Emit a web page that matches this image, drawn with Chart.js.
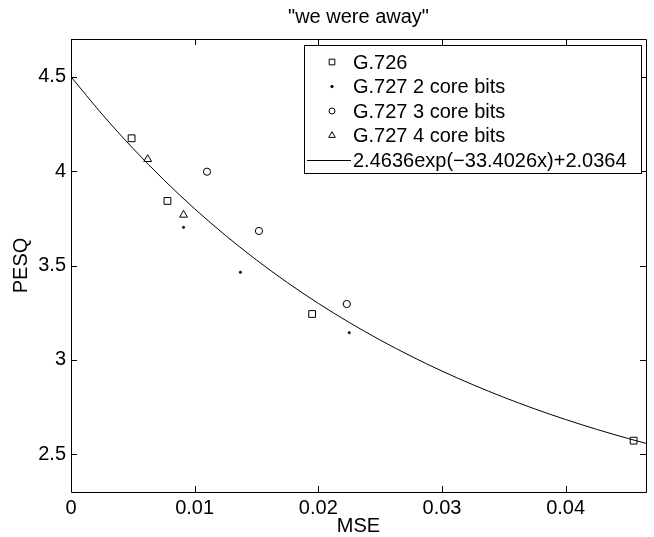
<!DOCTYPE html>
<html>
<head>
<meta charset="utf-8">
<script src="https://cdn.jsdelivr.net/npm/chart.js@4.4.0/dist/chart.umd.min.js"></script>
<style>
  body { margin: 0; background: #fff; }
  #wrap { width: 654px; height: 537px; }
</style>
</head>
<body>
<div id="wrap"><canvas id="myChart" width="654" height="537"></canvas></div>
<script>
// values
const g726X = [0.0049, 0.0078, 0.0195, 0.0455];
const g726Y = [4.174, 3.842, 3.243, 2.572];
const core2X = [0.0091, 0.0137, 0.0225];
const core2Y = [3.702, 3.464, 3.144];
const core3X = [0.0110, 0.0152, 0.0223];
const core3Y = [3.997, 3.683, 3.296];
const core4X = [0.0062, 0.0091];
const core4Y = [4.063, 3.768];
// fitted curve, sampled along the drawn line
const fitX = [0, 0.0025, 0.005, 0.0075, 0.01, 0.0125, 0.015, 0.0175, 0.02, 0.0225, 0.025,
              0.0275, 0.03, 0.0325, 0.035, 0.0375, 0.04, 0.0425, 0.045, 0.0465];
const fitY = [4.5, 4.3026, 4.1211, 3.954, 3.8004, 3.6591, 3.5291, 3.4095, 3.2995, 3.1983, 3.1052,
              3.0196, 2.9408, 2.8684, 2.8017, 2.7404, 2.684, 2.6321, 2.5844, 2.5576];
const xTicks = [0, 0.01, 0.02, 0.03, 0.04];
const yTicks = [2.5, 3, 3.5, 4, 4.5];

const FONT = '"Liberation Sans", Arial, Helvetica, sans-serif';
const pts = (xs, ys) => xs.map((x, i) => ({x: x, y: ys[i]}));

// box with inward ticks on every side, matlab style
const boxPlugin = {
  id: 'box',
  afterDraw(chart) {
    const {ctx, chartArea: a, scales} = chart;
    ctx.save();
    ctx.strokeStyle = '#000';
    ctx.lineWidth = 1;
    ctx.beginPath();
    ctx.rect(a.left + 0.5, a.top + 0.5, a.right - a.left, a.bottom - a.top);
    const tl = 6;
    xTicks.forEach(v => {
      const px = Math.round(scales.x.getPixelForValue(v)) + 0.5;
      ctx.moveTo(px, a.bottom); ctx.lineTo(px, a.bottom - tl);
      ctx.moveTo(px, a.top); ctx.lineTo(px, a.top + tl);
    });
    yTicks.forEach(v => {
      const py = Math.round(scales.y.getPixelForValue(v)) + 0.5;
      ctx.moveTo(a.left, py); ctx.lineTo(a.left + tl, py);
      ctx.moveTo(a.right, py); ctx.lineTo(a.right - tl, py);
    });
    ctx.stroke();

    // title
    ctx.fillStyle = '#000';
    ctx.font = '20px ' + FONT;
    ctx.textAlign = 'center';
    ctx.textBaseline = 'middle';
    ctx.fillText('"we were away"', (a.left + a.right) / 2, 17);

    // legend box
    const lx = 304, ly = 45, lw = 337, lh = 128;
    ctx.fillStyle = '#fff';
    ctx.fillRect(lx, ly, lw, lh);
    ctx.strokeRect(lx + 0.5, ly + 0.5, lw, lh);
    ctx.font = '20px ' + FONT;
    ctx.textAlign = 'left';
    chart.data.datasets.forEach((ds, i) => {
      const y = 62 + i * 24.5;
      if (ds.showLine) {
        ctx.beginPath();
        ctx.moveTo(307, Math.round(y) + 0.5);
        ctx.lineTo(351, Math.round(y) + 0.5);
        ctx.stroke();
      } else {
        ctx.fillStyle = ds.pointBackgroundColor;
        ctx.strokeStyle = '#000';
        Chart.helpers.drawPoint(ctx, {
          pointStyle: ds.pointStyle, radius: ds.legendRadius, rotation: 0,
          borderWidth: 1
        }, 332, y);
      }
      ctx.fillStyle = '#000';
      ctx.fillText(ds.label, 353, y + 1);
    });
    ctx.restore();
  }
};

const ctx = document.getElementById('myChart').getContext('2d');
const myChart = new Chart(ctx, {
  type: 'scatter',
  data: {
    datasets: [
      { label: 'G.726', data: pts(g726X, g726Y), pointStyle: 'rect', pointRadius: 4.8, legendRadius: 4,
        borderColor: '#000', backgroundColor: 'rgba(0,0,0,0)', pointBackgroundColor: 'rgba(0,0,0,0)', borderWidth: 1 },
      { label: 'G.727 2 core bits', data: pts(core2X, core2Y), pointStyle: 'circle', pointRadius: 1.2, legendRadius: 1.2,
        borderColor: '#000', backgroundColor: '#000', pointBackgroundColor: '#000', borderWidth: 0.5 },
      { label: 'G.727 3 core bits', data: pts(core3X, core3Y), pointStyle: 'circle', pointRadius: 3.6, legendRadius: 3,
        borderColor: '#000', backgroundColor: 'rgba(0,0,0,0)', pointBackgroundColor: 'rgba(0,0,0,0)', borderWidth: 1 },
      { label: 'G.727 4 core bits', data: pts(core4X, core4Y), pointStyle: 'triangle', pointRadius: 4.5, legendRadius: 3.8,
        borderColor: '#000', backgroundColor: 'rgba(0,0,0,0)', pointBackgroundColor: 'rgba(0,0,0,0)', borderWidth: 1 },
      { label: '2.4636exp(\u221233.4026x)+2.0364', data: pts(fitX, fitY), showLine: true,
        pointRadius: 0, borderColor: '#000', borderWidth: 1, cubicInterpolationMode: 'monotone' }
    ]
  },
  options: {
    responsive: false,
    animation: false,
    layout: { padding: { top: 39, right: 8, left: 0, bottom: 0 } },
    plugins: { legend: { display: false }, tooltip: { enabled: false }, title: { display: false } },
    scales: {
      x: {
        type: 'linear', min: 0, max: 0.0465,
        afterFit: s => { s.height = 45; },
        afterBuildTicks: s => { s.ticks = xTicks.map(v => ({value: v})); },
        grid: { drawOnChartArea: false, drawTicks: false },
        border: { display: false },
        ticks: { color: '#000', padding: 4, font: { family: FONT, size: 20 }, maxRotation: 0,
                 callback: v => String(v) },
        title: { display: true, text: 'MSE', color: '#000', font: { family: FONT, size: 20 },
                 padding: { top: 0, bottom: -1 } }
      },
      y: {
        type: 'linear', min: 2.3, max: 4.7,
        afterFit: s => { s.width = 71; },
        afterBuildTicks: s => { s.ticks = yTicks.map(v => ({value: v})); },
        grid: { drawOnChartArea: false, drawTicks: false },
        border: { display: false },
        ticks: { color: '#000', padding: 5, font: { family: FONT, size: 20 },
                 callback: v => String(v) },
        title: { display: true, text: 'PESQ', color: '#000', font: { family: FONT, size: 20 },
                 padding: { top: 9, bottom: 0 } }
      }
    }
  },
  plugins: [boxPlugin]
});
</script>
</body>
</html>
